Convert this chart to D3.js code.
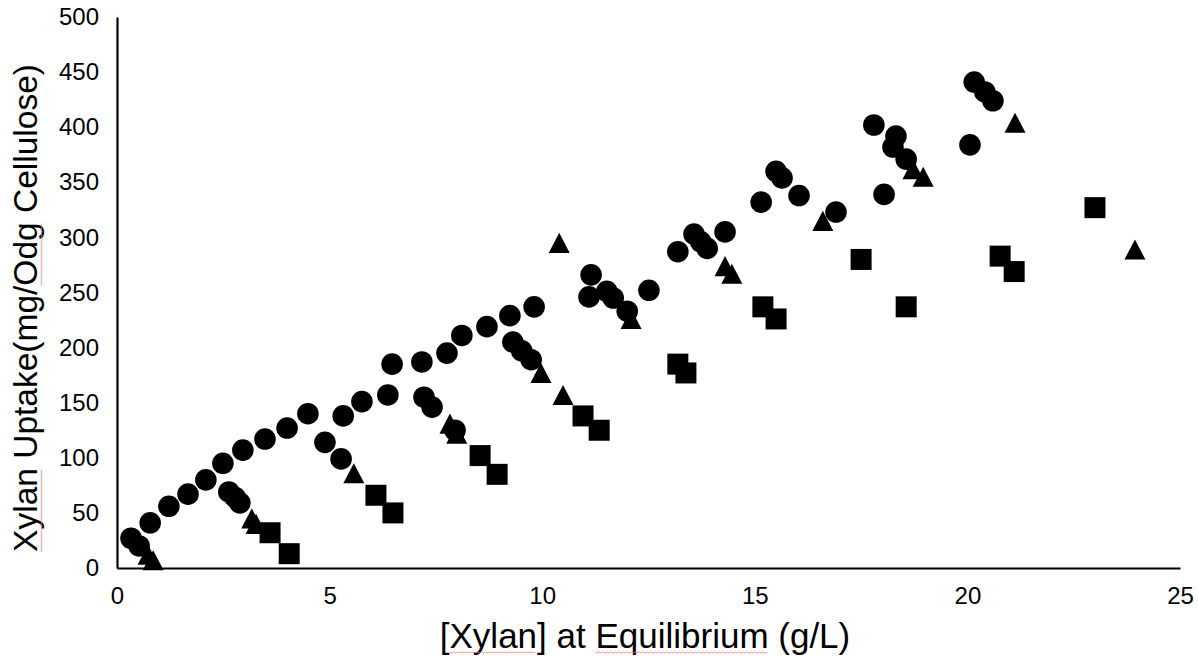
<!DOCTYPE html>
<html>
<head>
<meta charset="utf-8">
<script src="https://cdn.jsdelivr.net/npm/d3@7"></script>
<style>
  html, body { margin: 0; padding: 0; background: #fff; }
  svg { display: block; }
  text { font-family: "Liberation Sans", Arial, sans-serif; fill: #000; }
</style>
</head>
<body>
<svg id="chart" width="1198" height="661"></svg>
<script>
// Xylan adsorption isotherm data: equilibrium concentration (g/L) vs uptake (mg/g)
const circleX = [0.33, 0.52, 0.78, 1.22, 1.67, 2.09, 2.49, 2.96, 3.48, 4.00, 4.49,
  2.63, 2.78, 2.89, 4.89, 5.27, 5.32, 5.76, 6.37, 6.47, 7.17, 7.76, 8.11, 8.70,
  9.24, 9.81, 7.22, 7.41, 7.95, 9.31, 9.52, 9.74, 11.15, 11.10, 11.52, 11.67,
  12.00, 12.51, 13.19, 13.57, 13.73, 13.88, 14.30, 15.15, 15.50, 15.64, 16.04,
  16.91, 17.80, 18.32, 18.25, 18.56, 18.04, 20.06, 20.16, 20.41, 20.60];
const circleY = [27, 20, 41, 56, 67, 80, 95, 107, 117, 127, 140,
  69, 64, 59, 114, 99, 138, 151, 157, 185, 187, 195, 211, 219,
  229, 237, 155, 146, 125, 205, 197, 189, 266, 246, 251, 245,
  233, 252, 287, 303, 296, 290, 305, 332, 360, 354, 338,
  323, 402, 392, 382, 371, 339, 384, 441, 432, 424];

const triangleX = [0.73, 0.85, 3.17, 3.27, 5.57, 7.83, 7.99, 9.97, 10.49, 10.40,
  12.09, 14.30, 14.46, 16.60, 18.72, 18.96, 21.12, 23.94];
const triangleY = [12, 7, 45, 40, 86, 131, 122, 177, 157, 295,
  226, 274, 267, 315, 362, 355, 404, 289];

const squareX = [3.60, 4.05, 6.09, 6.49, 8.54, 8.94, 10.96, 11.34, 13.19, 13.38,
  15.19, 15.50, 17.50, 18.56, 20.77, 21.10, 23.00];
const squareY = [32, 13, 66, 50, 102, 85, 138, 125, 185, 177,
  237, 226, 280, 237, 283, 269, 327];

const xTicks = [0, 5, 10, 15, 20, 25];
const yTicks = [0, 50, 100, 150, 200, 250, 300, 350, 400, 450, 500];

const xTitle = "[Xylan] at Equilibrium (g/L)";
const yTitle = "Xylan Uptake(mg/Odg Cellulose)";

const svg = d3.select("#chart");

const x = d3.scaleLinear().domain([0, 25]).range([117, 1180]);
const y = d3.scaleLinear().domain([0, 500]).range([568, 17]);

// Axes: plain black lines, no tick marks
const xAxis = d3.axisBottom(x).tickValues(xTicks).tickSize(0).tickPadding(19)
  .tickFormat(d3.format("d"));
const yAxis = d3.axisLeft(y).tickValues(yTicks).tickSize(0).tickPadding(18)
  .tickFormat(d3.format("d"));

const gx = svg.append("g").attr("transform", `translate(0,${y(0)})`).call(xAxis);
const gy = svg.append("g").attr("transform", `translate(${x(0)},0)`).call(yAxis);

[gx, gy].forEach(g => {
  g.attr("font-family", null);
  g.select(".domain").attr("stroke", "#000").attr("stroke-width", 2.2);
  g.selectAll("text").attr("font-size", 24).attr("fill", "#000");
});

// Isoceles triangle marker (width equals height)
const triType = {
  draw(ctx, size) {
    const s = Math.sqrt(size);
    const h = s * 0.96;
    ctx.moveTo(0, -h / 2);
    ctx.lineTo(s / 2, h / 2);
    ctx.lineTo(-s / 2, h / 2);
    ctx.closePath();
  }
};

const plot = svg.append("g");

function drawSeries(xs, ys, type, size) {
  const sym = d3.symbol().type(type).size(size);
  plot.append("g").selectAll("path")
    .data(xs.map((v, i) => [v, ys[i]]))
    .join("path")
    .attr("d", sym)
    .attr("transform", d => `translate(${x(d[0])},${y(d[1])})`)
    .attr("fill", "#000");
}

drawSeries(circleX, circleY, d3.symbolCircle, Math.PI * 10.8 * 10.8);
drawSeries(triangleX, triangleY, triType, 21 * 21);
drawSeries(squareX, squareY, d3.symbolSquare, 21 * 21);

// Axis titles, with proofing underlines beneath flagged words
function squiggle(textSel, g, words, baseShift) {
  const node = textSel.node();
  const full = node.textContent;
  const total = node.getComputedTextLength();
  words.forEach(w => {
    const i = full.indexOf(w);
    const start = i > 0 ? node.getSubStringLength(0, i) : 0;
    const len = node.getSubStringLength(i, w.length);
    const x0 = -total / 2 + start;
    g.append("path")
      .attr("d", d3.line()(d3.range(0, Math.floor(len / 2) + 1).map(k =>
        [x0 + k * 2, baseShift + (k % 2 ? 1 : 0)])))
      .attr("fill", "none")
      .attr("stroke", "#f07a7a")
      .attr("stroke-width", 0.8);
  });
}

const gxt = svg.append("g").attr("transform", "translate(645,648)");
const xt = gxt.append("text").attr("text-anchor", "middle").attr("font-size", 35).text(xTitle);
squiggle(xt, gxt, ["Xylan", "Equilibrium"], 4);

const gyt = svg.append("g").attr("transform", "translate(37,308) rotate(-90)");
const yt = gyt.append("text").attr("text-anchor", "middle").attr("font-size", 33.5).text(yTitle);
squiggle(yt, gyt, ["Xylan", "Odg"], 4);
</script>
</body>
</html>
